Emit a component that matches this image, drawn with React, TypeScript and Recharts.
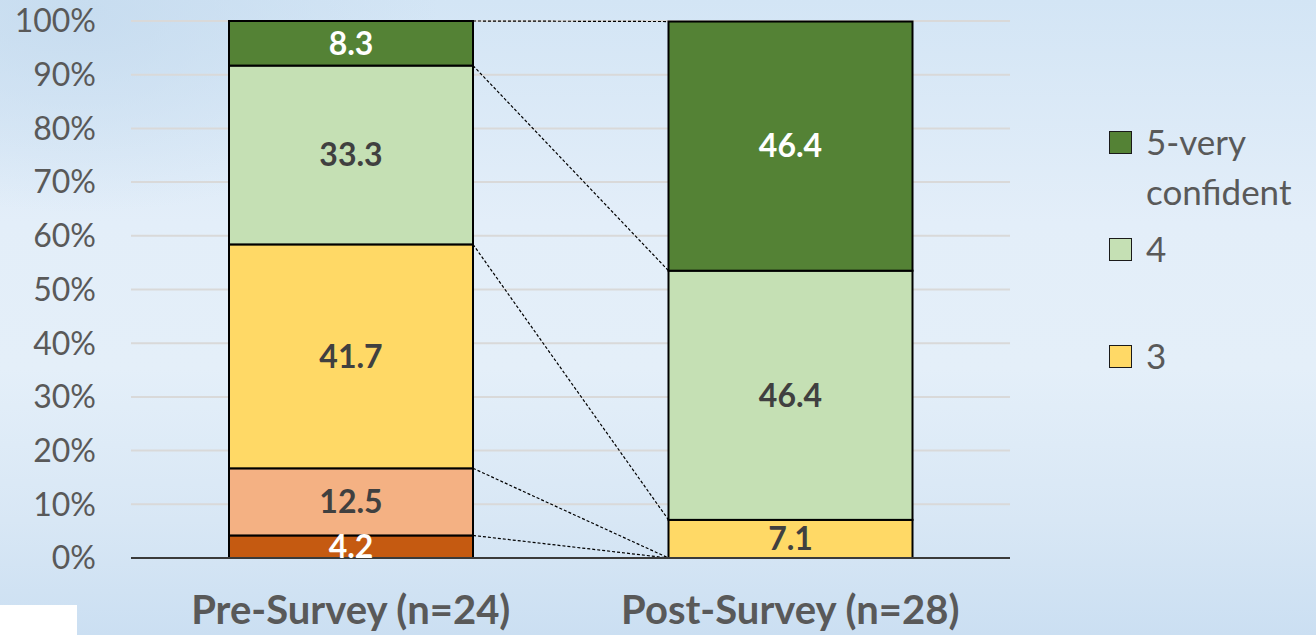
import React from 'react'
import { BarChart, Bar, XAxis, YAxis, CartesianGrid, LabelList } from 'recharts'

const surveys = ['Pre-Survey (n=24)', 'Post-Survey (n=28)']

// share of answers per confidence level, in percent
const level1 = [4.2, 0]
const level2 = [12.5, 0]
const level3 = [41.7, 7.1]
const level4 = [33.3, 46.4]
const level5 = [8.3, 46.4]

const yTicks = [0, 10, 20, 30, 40, 50, 60, 70, 80, 90, 100]

const data = surveys.map((name, i) => ({
  name,
  l1: level1[i],
  l2: level2[i],
  l3: level3[i],
  l4: level4[i],
  l5: level5[i],
}))

const SERIES = [
  { key: 'l1', color: '#c55a11', label: '#ffffff' },
  { key: 'l2', color: '#f4b183', label: '#404040' },
  { key: 'l3', color: '#ffd966', label: '#404040' },
  { key: 'l4', color: '#c5e0b4', label: '#404040' },
  { key: 'l5', color: '#548235', label: '#ffffff' },
]

const LEGEND = [
  { color: '#548235', lines: ['5-very', 'confident'], top: 131 },
  { color: '#c5e0b4', lines: ['4'], top: 238 },
  { color: '#ffd966', lines: ['3'], top: 345 },
]

const FONT = 'Lato, "Open Sans", sans-serif'

// top-right corner of each pre-survey segment, used for the series lines
const corners: Record<string, { x: number; y: number }> = {}

function segmentShape(key: string, fill: string) {
  return (props: any) => {
    const { x, y, width, height, index } = props
    let link = null
    if (index === 0) {
      corners[key] = { x: x + width, y }
    } else if (corners[key]) {
      link = (
        <line
          x1={corners[key].x}
          y1={corners[key].y}
          x2={x}
          y2={y}
          stroke="#000"
          strokeWidth={1.2}
          strokeDasharray="3 2"
        />
      )
    }
    return (
      <g>
        {height > 0 && (
          <rect x={x} y={y} width={width} height={height} fill={fill} stroke="#000" strokeWidth={2} />
        )}
        {link}
      </g>
    )
  }
}

export default function App() {
  return (
    <div
      style={{
        position: 'absolute',
        left: 0,
        top: 0,
        width: 1316,
        height: 635,
        overflow: 'hidden',
        fontFamily: FONT,
        background:
          'radial-gradient(ellipse 360px 200px at 6% 2%, rgba(196,218,238,0.8) 0%, rgba(196,218,238,0) 100%), linear-gradient(180deg, #d3e5f5 0%, #e3eef9 35%, #e4eff9 58%, #d8e7f5 82%, #cbdff2 100%)',
      }}
    >
      <BarChart width={1316} height={635} data={data} margin={{ top: 21, right: 306, bottom: 0, left: 11 }}>
        <CartesianGrid vertical={false} stroke="#d9d9d9" strokeWidth={2} />
        <XAxis
          dataKey="name"
          height={77}
          axisLine={{ stroke: '#3a3a3a', strokeWidth: 2 }}
          tickLine={false}
          tickMargin={32}
          tick={{ fill: '#595959', fontSize: 40, fontWeight: 700, fontFamily: FONT }}
        />
        <YAxis
          width={120}
          domain={[0, 100]}
          ticks={yTicks}
          tickFormatter={(v: number) => `${v}%`}
          axisLine={false}
          tickLine={false}
          tickMargin={29}
          tick={{ fill: '#595959', fontSize: 32, fontFamily: FONT }}
        />
        {SERIES.map((s) => (
          <Bar
            key={s.key}
            dataKey={s.key}
            stackId="a"
            fill={s.color}
            barSize={244}
            isAnimationActive={false}
            shape={segmentShape(s.key, s.color)}
          >
            <LabelList
              dataKey={s.key}
              position="center"
              formatter={(v: any) => (v ? v : '')}
              fill={s.label}
              style={{ fontSize: 32, fontWeight: 700, fontFamily: FONT }}
            />
          </Bar>
        ))}
      </BarChart>

      {LEGEND.map((item) => (
        <div key={item.lines[0]} style={{ position: 'absolute', left: 1109, top: item.top }}>
          <div
            style={{
              position: 'absolute',
              left: 0,
              top: 0,
              width: 21,
              height: 21,
              background: item.color,
              border: '1.5px solid #1a1a1a',
            }}
          />
          <div
            style={{
              position: 'absolute',
              left: 37,
              top: -15,
              fontSize: 35,
              lineHeight: '50px',
              color: '#595959',
              whiteSpace: 'nowrap',
            }}
          >
            {item.lines.map((l) => (
              <div key={l}>{l}</div>
            ))}
          </div>
        </div>
      ))}

      <div style={{ position: 'absolute', left: 0, top: 605, width: 77, height: 30, background: '#ffffff' }} />
    </div>
  )
}
